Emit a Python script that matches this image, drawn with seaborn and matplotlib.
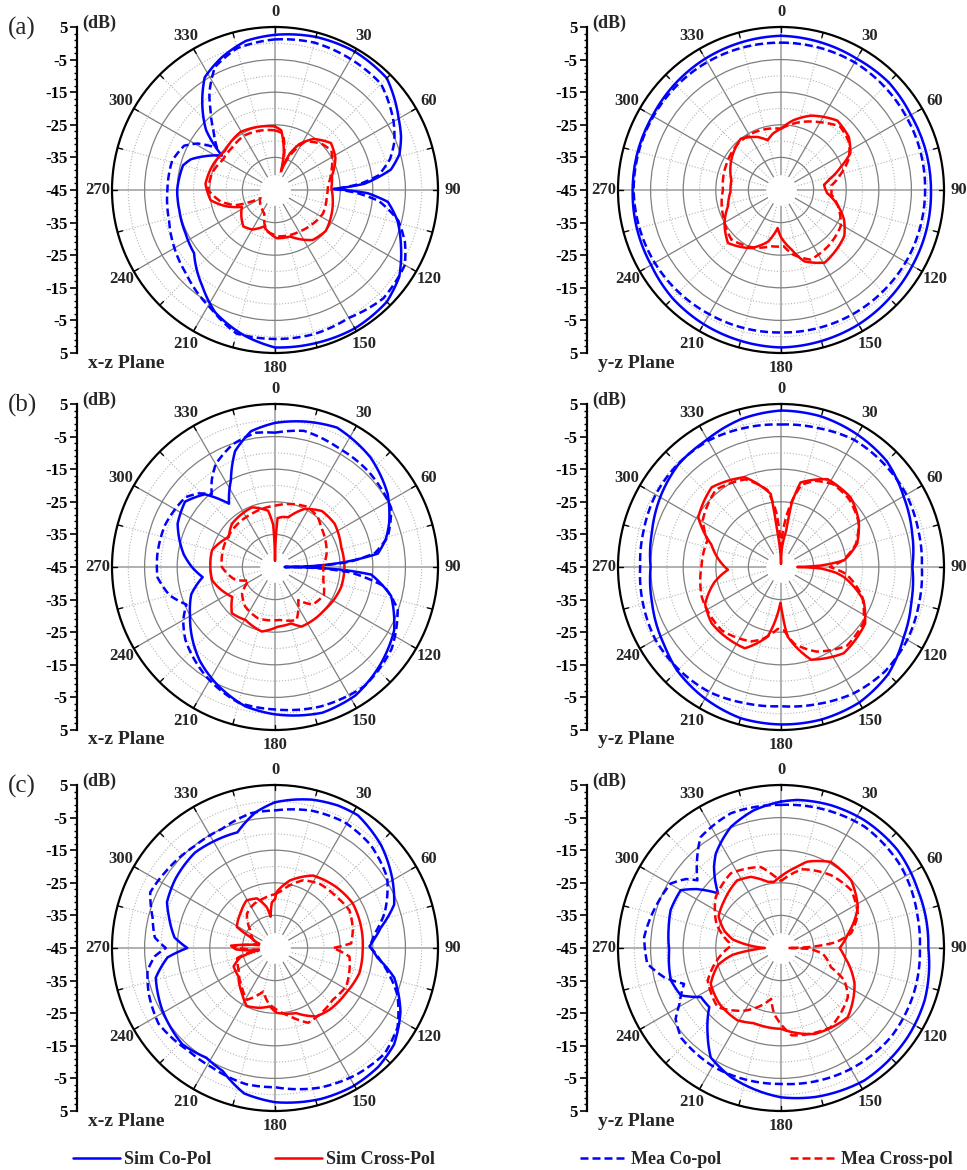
import numpy as np
import matplotlib
matplotlib.use("Agg")
import matplotlib.pyplot as plt
import seaborn as sns
from matplotlib.ticker import FixedLocator, MultipleLocator
from matplotlib.lines import Line2D

# ---------------- data (angle in degrees, gain in dB) ----------------
# (a) x-z plane
a_xz_sim_co_deg = [0, 15, 30, 45, 60, 67, 74, 80, 86, 89, 92, 96, 104, 114, 125, 135, 150, 165, 180, 192, 206, 217, 232, 244, 258, 270, 285, 290, 296, 303, 311, 320, 328, 338, 349]
a_xz_sim_co_db = [2.6, 3.6, 4.0, 3.5, -1.2, -3.0, -5.3, -8.9, -17.5, -27.0, -16.5, -10.2, -6.3, -2.7, 1.5, 3.5, 4.0, 3.6, 3.3, 0.6, -3.2, -8.0, -13.5, -14.5, -15.0, -15.0, -15.8, -17.5, -21.3, -25.6, -17.0, -10.3, -4.3, -1.2, 1.6]
a_xz_mea_co_deg = [0, 15, 30, 45, 60, 68, 75, 82, 86, 89, 92, 96, 104, 112, 120, 135, 150, 165, 180, 195, 208, 227, 241, 254, 270, 286, 296, 301, 306, 314, 321, 326, 334, 345]
a_xz_mea_co_db = [1.2, 1.8, 1.4, 1.0, -3.0, -5.5, -8.5, -13.0, -19.0, -27.0, -20.0, -13.0, -6.0, -2.0, 1.0, 2.0, 0.3, 0.8, 0.7, 0.6, -3.6, -7.6, -9.5, -11.2, -12.0, -12.2, -14.0, -17.3, -23.0, -18.8, -13.6, -9.0, -3.0, 0.0]
a_xz_sim_x_deg = [0, 6, 13, 18, 22, 28, 37, 50, 62, 76, 88, 100, 115, 129, 143, 155, 162, 178, 197, 210, 221, 243, 252, 261, 275, 293, 308, 329, 344]
a_xz_sim_x_db = [-25.5, -26.6, -33.0, -39.0, -33.0, -29.0, -25.4, -22.6, -24.0, -27.0, -27.7, -27.0, -26.0, -25.0, -25.8, -28.5, -30.0, -30.2, -33.3, -31.0, -30.2, -33.6, -29.0, -25.0, -23.6, -24.5, -25.5, -24.3, -24.9]
a_xz_mea_x_deg = [0, 8, 13, 18, 24, 32, 45, 55, 70, 85, 97, 116, 133, 149, 174, 190, 197, 204, 215, 230, 241, 249, 258, 270, 285, 300, 315, 330, 345]
a_xz_mea_x_db = [-26.7, -27.5, -32.0, -38.0, -33.0, -27.5, -24.9, -23.9, -26.5, -28.7, -29.0, -28.6, -29.5, -30.2, -30.7, -32.0, -34.0, -37.0, -38.0, -39.0, -39.8, -32.0, -28.0, -24.5, -25.0, -26.5, -26.5, -25.8, -26.2]

# (a) y-z plane
a_yz_sim_co_deg = [0, 30, 45, 60, 90, 120, 135, 150, 180, 210, 225, 240, 270, 300, 315, 330]
a_yz_sim_co_db = [2.3, 1.5, 1.7, 1.0, 1.0, 1.5, 2.0, 2.6, 3.3, 2.5, 2.0, 1.0, 0.5, 0.5, 1.0, 1.5]
a_yz_mea_co_deg = [0, 30, 60, 90, 120, 150, 180, 210, 240, 270, 300, 330]
a_yz_mea_co_db = [0.2, 0.2, -0.5, -0.8, -0.8, -1.0, -1.3, -1.0, -0.3, 0.2, 0.2, 0.3]
a_yz_sim_x_deg = [0, 10, 22, 39, 52, 62, 69, 78, 83, 88, 94, 105, 115, 126, 149, 162, 170, 180, 185, 194, 207, 225, 240, 253, 268, 281, 301, 322, 336, 345, 352]
a_yz_sim_x_db = [-26.2, -23.3, -20.4, -17.6, -18.6, -20.9, -25.4, -30.0, -31.7, -31.5, -30.8, -27.0, -23.7, -21.0, -19.0, -22.0, -26.5, -30.5, -33.3, -28.7, -25.0, -22.0, -25.0, -28.0, -29.5, -29.5, -27.2, -25.0, -27.2, -29.2, -27.5]
a_yz_mea_x_deg = [0, 15, 30, 43, 55, 65, 75, 85, 95, 105, 121, 140, 157, 170, 177, 190, 205, 225, 245, 270, 295, 317, 335, 348]
a_yz_mea_x_db = [-26.2, -23.5, -21.0, -18.4, -19.5, -22.0, -26.0, -29.5, -29.5, -27.0, -23.6, -22.5, -21.8, -25.0, -27.7, -27.5, -25.5, -23.5, -25.5, -27.2, -26.5, -25.6, -25.5, -25.8]

# (b) x-z plane
b_xz_sim_co_deg = [0, 12, 24, 41, 57, 69, 76, 82.6, 86, 88.5, 90, 91, 92.5, 94.5, 104, 118, 132, 148, 162, 180, 192, 207, 219, 240, 252, 262, 270, 278, 294, 306, 316, 324, 333, 341, 350]
b_xz_sim_co_db = [-0.8, 0.6, 1.8, -0.4, -3.8, -7.5, -10.0, -13.2, -23.6, -33.0, -42.0, -33.0, -23.7, -15.4, -8.3, -3.6, -1.1, 1.5, 2.0, 0.2, -1.3, -5.0, -8.2, -14.9, -18.0, -22.6, -19.5, -16.7, -12.3, -10.9, -14.0, -21.0, -15.2, -7.4, -2.7]
b_xz_mea_co_deg = [0, 12, 28, 44, 63, 75, 82, 86, 88.5, 90, 91.5, 94, 100, 109, 125, 143, 162, 180, 195, 212, 231, 240, 247, 255, 265, 276, 291, 308, 314, 319, 324, 330, 341, 352]
b_xz_mea_co_db = [-3.8, -2.3, -3.6, -4.0, -5.0, -9.2, -14.0, -22.0, -32.0, -42.0, -32.0, -22.0, -11.0, -5.2, -1.3, 0.7, 0.0, -1.3, -1.9, -5.3, -9.6, -12.5, -15.5, -11.5, -8.8, -8.7, -8.9, -10.2, -12.5, -15.4, -12.0, -8.6, -5.2, -3.4]
b_xz_sim_x_deg = [0, 3, 8, 15, 27, 40, 54, 73, 90, 107, 131, 156, 164, 177, 191.6, 209, 223, 235, 258, 285, 303, 315, 339, 353, 357.5]
b_xz_sim_x_db = [-43.0, -30.0, -29.5, -29.2, -25.0, -22.6, -22.4, -23.8, -23.7, -23.8, -24.9, -25.0, -27.0, -26.7, -24.8, -26.4, -25.6, -29.0, -25.3, -25.0, -28.1, -26.3, -25.4, -27.6, -32.0]
b_xz_mea_x_deg = [0, 15, 29, 41, 49, 62, 75, 90, 105, 120, 135, 145, 158, 175, 198, 217, 231, 243, 252, 270, 291, 310, 336]
b_xz_mea_x_db = [-26.2, -25.0, -24.0, -24.9, -26.3, -27.5, -28.6, -30.3, -29.7, -27.7, -28.7, -32.6, -27.4, -28.7, -28.4, -29.8, -32.0, -36.0, -32.2, -28.7, -28.1, -27.7, -27.2]

# (b) y-z plane
b_yz_sim_co_deg = [0, 15, 30, 45, 60, 75, 90, 105, 120, 135, 150, 165, 180, 195, 211, 225, 236, 255, 270, 285, 301, 315, 329, 345]
b_yz_sim_co_db = [3.0, 2.8, 1.9, 0.9, -1.6, -3.4, -4.7, -3.6, -1.6, 1.5, 3.0, 3.4, 3.3, 3.0, 1.5, 0.0, -1.9, -4.0, -5.0, -4.0, -2.1, -0.5, 0.1, 2.0]
b_yz_mea_co_deg = [0, 15, 30, 45, 60, 75, 90, 105, 120, 135, 150, 165, 180, 195, 210, 225, 240, 255, 270, 285, 300, 315, 330, 345]
b_yz_mea_co_db = [-1.3, -0.9, 0.0, -0.3, -0.6, -1.4, -1.8, -1.2, -0.3, 0.2, -0.3, -1.5, -2.3, -1.8, -0.8, -0.6, -0.5, -1.2, -1.8, -1.4, -0.6, -0.3, -0.3, -0.9]
b_yz_sim_x_deg = [0, 2, 8, 9.5, 13, 28, 45, 59, 73, 84, 88, 90, 92, 96, 99, 112, 124, 144, 162, 174.6, 179, 181, 190.8, 204, 231, 244, 257, 267, 276, 288, 301, 319, 338, 352, 354, 357]
b_yz_sim_x_db = [-44.0, -40.0, -34.0, -25.0, -18.4, -14.5, -14.8, -17.2, -20.6, -25.6, -33.0, -40.0, -33.0, -28.0, -25.5, -17.7, -13.9, -12.3, -15.1, -23.6, -32.0, -34.0, -23.3, -17.7, -17.6, -19.1, -24.0, -28.7, -26.0, -22.5, -15.4, -12.6, -15.3, -22.4, -34.0, -40.0]
b_yz_mea_x_deg = [0, 3, 9, 14, 22, 32, 45, 60, 73, 84, 90, 96, 110, 124, 140, 157, 170, 177, 183, 195, 202, 223, 249, 270, 290, 301, 320, 338, 350, 355]
b_yz_mea_x_db = [-40.0, -34.0, -25.0, -19.0, -16.5, -15.0, -15.5, -17.5, -21.0, -26.0, -30.0, -25.0, -18.5, -14.5, -13.5, -16.8, -21.0, -25.5, -26.0, -22.0, -20.4, -18.4, -19.0, -20.6, -21.0, -17.0, -14.0, -16.0, -21.0, -28.0]

# (c) x-z plane
c_xz_sim_co_deg = [0, 8, 14, 24, 32, 46, 59, 70, 79, 85, 89, 95.5, 104, 117, 129, 139, 151, 163, 180, 192, 203, 212, 224, 241, 256, 265, 270, 276, 286, 293, 305, 320, 331, 342, 352]
c_xz_sim_co_db = [-0.3, 1.0, 1.9, 2.8, 3.0, 0.3, -3.1, -6.1, -11.9, -14.5, -16.0, -13.4, -7.3, -1.8, 2.0, 3.3, 3.7, 3.4, 2.3, 0.6, -4.0, -5.3, -4.0, -5.5, -7.3, -11.9, -18.1, -14.0, -11.2, -9.0, -7.8, -6.8, -7.3, -7.7, -2.9]
c_xz_mea_co_deg = [0, 15, 29, 43, 58, 72, 82, 89, 97, 111, 123, 134, 147, 162, 180, 192, 208, 220, 237, 250, 260, 266, 270, 275, 284, 294, 305, 322, 336, 350]
c_xz_mea_co_db = [-2.8, -1.4, -0.9, -1.9, -4.4, -9.6, -14.2, -16.0, -12.3, -4.8, -0.2, 1.7, 1.2, 0.0, -2.3, -2.3, -3.6, -3.8, -2.4, -3.8, -5.3, -8.0, -11.5, -8.0, -6.3, -3.1, -4.1, -5.2, -5.0, -3.0]
c_xz_sim_x_deg = [0, 1.7, 12.4, 27.7, 45, 60, 76, 91, 106.6, 122, 138, 149, 162, 178.5, 185, 195, 206, 216, 232, 246, 255, 262, 268, 273, 278, 285, 294, 299, 315, 329, 340, 348.6, 352, 356]
c_xz_sim_x_db = [-30.0, -27.8, -23.8, -19.9, -18.5, -17.5, -17.8, -18.1, -18.0, -19.2, -19.7, -20.5, -24.0, -25.1, -27.0, -26.0, -25.2, -27.8, -30.8, -31.1, -34.0, -40.0, -33.0, -31.5, -38.0, -40.0, -36.7, -31.6, -30.0, -28.0, -28.8, -32.2, -35.3, -31.0]
c_xz_mea_x_deg = [0, 5, 22.6, 35, 50, 63, 77, 86.5, 90, 96.6, 118, 131.7, 145, 156, 167.7, 187, 195, 202, 208.6, 220.8, 239, 255, 264, 272, 280, 290, 305.8, 320.7, 335, 346.8]
c_xz_mea_x_db = [-28.5, -27.7, -22.5, -21.0, -20.5, -19.4, -20.5, -21.6, -27.2, -22.0, -20.2, -21.2, -20.5, -19.9, -23.6, -28.0, -31.2, -29.0, -26.9, -29.4, -32.0, -33.0, -40.0, -32.0, -40.0, -38.0, -35.6, -31.4, -30.0, -29.4]

# (c) y-z plane
c_yz_sim_co_deg = [0, 6.4, 19.3, 33, 50, 67, 90, 110, 125, 147.8, 167, 180, 201, 212.7, 220.6, 230.5, 238.5, 244.7, 253.6, 269, 280, 289, 300, 305, 311, 320.5, 325.4, 337.5, 349]
c_yz_sim_co_db = [-0.1, 0.7, 1.4, 1.8, 1.7, 0.6, 0.2, 1.9, 2.5, 3.0, 1.9, 0.8, -2.5, -5.1, -10.4, -16.5, -16.2, -11.0, -9.8, -10.7, -10.0, -9.2, -9.5, -13.5, -19.4, -12.7, -9.8, -4.8, -1.9]
c_yz_mea_co_deg = [0, 20, 34.6, 56, 77, 90, 107.6, 129, 151, 180, 209, 228, 236, 241, 249.7, 256, 263.3, 274.6, 289.8, 300.3, 306, 309, 315, 324, 339.6]
c_yz_mea_co_db = [-1.1, -0.4, 0.2, -0.5, -2.0, -2.4, -2.0, -1.6, -2.2, -3.3, -3.1, -3.8, -6.0, -9.4, -13.3, -8.0, -3.7, -2.9, -4.7, -5.8, -9.0, -12.0, -8.5, -3.0, -0.9]
c_yz_sim_x_deg = [0, 10, 17, 30, 46, 62, 78, 90, 98, 116, 136, 158.7, 180, 200, 211, 228, 243, 255, 262, 266, 270, 274, 280, 287, 297, 310, 327, 337, 348.6, 354]
c_yz_sim_x_db = [-23.0, -20.0, -17.3, -14.5, -15.1, -18.3, -24.0, -27.0, -25.3, -19.9, -15.5, -16.7, -20.2, -20.5, -19.1, -19.5, -20.8, -25.0, -30.0, -36.0, -40.0, -36.0, -30.0, -26.8, -23.5, -22.3, -20.3, -21.3, -24.3, -24.6]
c_yz_mea_x_deg = [0, 15, 34.5, 50.5, 66, 78, 84, 88, 90, 92, 98, 111, 117, 126, 148, 173, 186, 191, 200, 210, 227, 246, 262, 272, 276, 290, 308, 326, 346, 355]
c_yz_mea_x_db = [-24.5, -20.0, -17.9, -17.1, -19.2, -23.0, -28.0, -36.0, -43.0, -36.0, -32.0, -28.6, -23.2, -19.6, -16.3, -18.0, -24.7, -29.1, -26.0, -22.8, -18.4, -20.4, -26.0, -29.5, -29.0, -24.0, -19.6, -17.4, -19.4, -23.0]

series_labels = ["Sim Co-Pol", "Sim Cross-Pol", "Mea Co-pol", "Mea Cross-pol"]
angle_labels = [str(a) for a in range(0, 360, 30)]
scale_ticks = list(range(-50, 51, 10))
scale_labels = [str(abs(t) - 45) for t in scale_ticks]
panel_letters = ["(a)", "(b)", "(c)"]
plane_names = ["x-z Plane", "y-z Plane"]

panels = [
    [(a_xz_sim_co_deg, a_xz_sim_co_db), (a_xz_sim_x_deg, a_xz_sim_x_db), (a_xz_mea_co_deg, a_xz_mea_co_db), (a_xz_mea_x_deg, a_xz_mea_x_db)],
    [(a_yz_sim_co_deg, a_yz_sim_co_db), (a_yz_sim_x_deg, a_yz_sim_x_db), (a_yz_mea_co_deg, a_yz_mea_co_db), (a_yz_mea_x_deg, a_yz_mea_x_db)],
    [(b_xz_sim_co_deg, b_xz_sim_co_db), (b_xz_sim_x_deg, b_xz_sim_x_db), (b_xz_mea_co_deg, b_xz_mea_co_db), (b_xz_mea_x_deg, b_xz_mea_x_db)],
    [(b_yz_sim_co_deg, b_yz_sim_co_db), (b_yz_sim_x_deg, b_yz_sim_x_db), (b_yz_mea_co_deg, b_yz_mea_co_db), (b_yz_mea_x_deg, b_yz_mea_x_db)],
    [(c_xz_sim_co_deg, c_xz_sim_co_db), (c_xz_sim_x_deg, c_xz_sim_x_db), (c_xz_mea_co_deg, c_xz_mea_co_db), (c_xz_mea_x_deg, c_xz_mea_x_db)],
    [(c_yz_sim_co_deg, c_yz_sim_co_db), (c_yz_sim_x_deg, c_yz_sim_x_db), (c_yz_mea_co_deg, c_yz_mea_co_db), (c_yz_mea_x_deg, c_yz_mea_x_db)],
]

# ---------------- styling ----------------
sns.set_style("white")
plt.rcParams["font.family"] = ["Liberation Serif", "DejaVu Serif"]
plt.rcParams["font.weight"] = "bold"

BLUE, RED = "#0000FF", "#FF0000"
styles = [(BLUE, "-"), (RED, "-"), (BLUE, (0, (3.2, 1.6))), (RED, (0, (3.2, 1.6)))]
LW = 1.8

W, H = 967, 1170
R = 163
col_cx = [275, 781]
row_cy = [190, 567, 948]
scale_x = [77, 587]

fig = plt.figure(figsize=(W / 100, H / 100), dpi=100)

def fx(x):
    return x / W

def fy(y):
    return 1 - y / H

for idx, series in enumerate(panels):
    row, col = divmod(idx, 2)
    cx, cy = col_cx[col], row_cy[row]
    ax = fig.add_axes([fx(cx - R), fy(cy + R), 2 * R / W, 2 * R / H], projection="polar")
    ax.set_theta_zero_location("N")
    ax.set_theta_direction(-1)
    ax.set_axisbelow(True)

    for (deg, db), (color, ls) in zip(series, styles):
        th = np.deg2rad(np.append(deg, deg[0] + 360))
        rr = np.append(db, db[0])
        sns.lineplot(x=th, y=rr, ax=ax, color=color, sort=False, estimator=None,
                     errorbar=None, lw=LW, zorder=3)
        ln = ax.lines[-1]
        ln.set_linestyle(ls)
        ln.get_path()._interpolation_steps = 24   # draw segments along polar arcs

    ax.set_ylim(-45, 5)
    ax.set_yticks([-35, -25, -15, -5])
    ax.yaxis.set_minor_locator(FixedLocator([-30, -20, -10, 0]))
    ax.set_yticklabels([])
    ax.set_xticks(np.deg2rad(np.arange(0, 360, 30)))
    ax.set_xticklabels(angle_labels, fontsize=12, fontweight="bold")
    ax.xaxis.set_minor_locator(FixedLocator(np.deg2rad(np.arange(15, 360, 30))))
    ax.tick_params(axis="x", pad=0)
    ax.set_xlabel("")
    ax.set_ylabel("")

    ax.grid(True, which="major", axis="y", color="#7f7f7f", lw=0.9, ls="-")
    ax.grid(True, which="minor", axis="y", color="#b5b5b5", lw=0.8, ls=":")
    ax.grid(True, which="major", axis="x", color="#7f7f7f", lw=0.9, ls="-")
    ax.grid(True, which="minor", axis="x", color="#b5b5b5", lw=0.8, ls=":")
    for i, gl in enumerate(ax.xaxis.get_gridlines()):
        if i % 3 == 0:
            gl.set_color("#b0b0b0")
            gl.set_linewidth(1.4)

    # inner hole where spokes are not drawn
    tt = np.linspace(0, 2 * np.pi, 200)
    ax.fill_between(tt, -45, -40.3, color="white", zorder=1.5, lw=0)

    # outer tick marks every 15 degrees
    for a in np.deg2rad(np.arange(0, 360, 15)):
        ax.plot([a, a], [3.4, 5], color="black", lw=1.0, zorder=4, clip_on=False)

    ax.spines["polar"].set_linewidth(1.6)
    ax.spines["polar"].set_color("black")

    # left dB scale
    sx = fig.add_axes([fx(scale_x[col]), fy(cy + R), 0.5 / W, 2 * R / H])
    sx.set_ylim(-50, 50)
    sx.set_xticks([])
    for s in ["top", "right", "bottom"]:
        sx.spines[s].set_visible(False)
    sx.spines["left"].set_linewidth(1.6)
    sx.spines["left"].set_color("black")
    sx.set_yticks(scale_ticks)
    sx.set_yticklabels(scale_labels, fontsize=12, fontweight="bold")
    sx.yaxis.set_minor_locator(MultipleLocator(2))
    sx.tick_params(axis="y", which="major", left=True, direction="out", length=5, width=1.2, pad=2, colors="black")
    sx.tick_params(axis="y", which="minor", left=True, direction="out", length=2.5, width=1.0, colors="black")
    sx.patch.set_alpha(0)

    fig.text(fx(scale_x[col] + 5), fy(cy - 167), "(dB)", ha="left", va="center",
             fontsize=13, fontweight="bold")
    fig.text(fx(scale_x[col] + 11), fy(cy + 173), plane_names[col], ha="left", va="center",
             fontsize=14, fontweight="bold")
    if col == 0:
        fig.text(fx(8), fy(cy - 162), panel_letters[row], ha="left", va="center",
                 fontsize=18, fontweight="normal")

# ---------------- legend ----------------
leg_x = [73, 275, 580, 790]
for lab, (color, ls), x in zip(series_labels, styles, leg_x):
    h = Line2D([0], [0], color=color, lw=LW, linestyle=ls)
    fig.legend([h], [lab], loc="center left", bbox_to_anchor=(fx(x), fy(1160)),
               frameon=False, borderpad=0, borderaxespad=0, handlelength=2.6,
               handletextpad=0.25, prop={"family": "Liberation Serif", "weight": "bold", "size": 13})

fig.savefig("out.png", dpi=100)
